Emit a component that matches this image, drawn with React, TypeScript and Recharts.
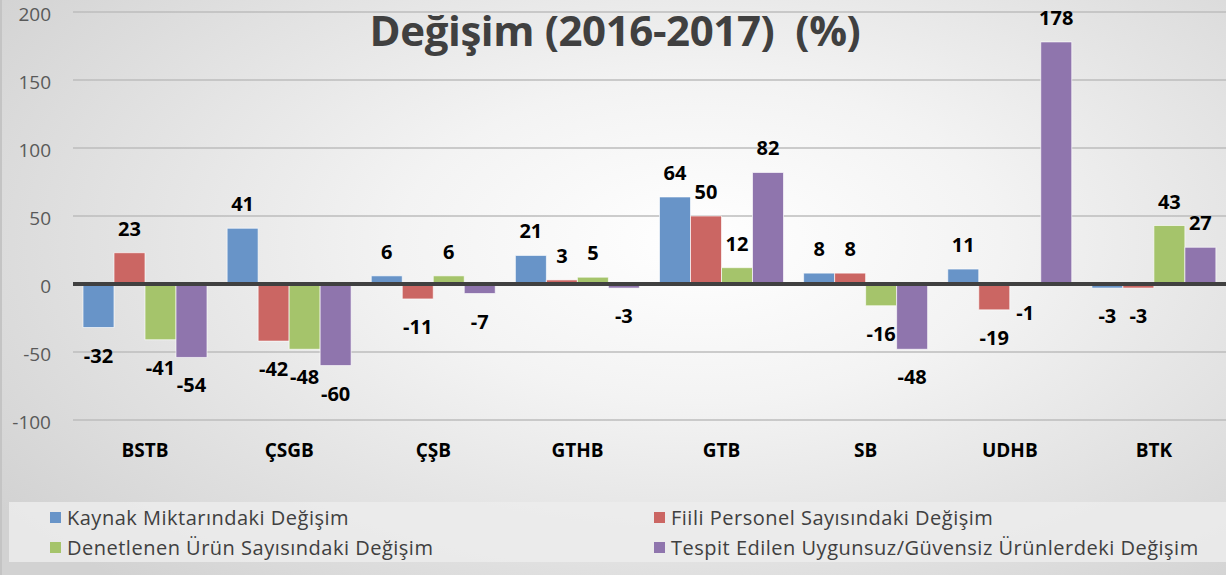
import React from 'react';
import { BarChart, Bar, XAxis, YAxis, CartesianGrid, ReferenceLine, LabelList } from 'recharts';

const categories = ['BSTB', 'ÇSGB', 'ÇŞB', 'GTHB', 'GTB', 'SB', 'UDHB', 'BTK'];
const kaynak = [-32, 41, 6, 21, 64, 8, 11, -3];
const personel = [23, -42, -11, 3, 50, 8, -19, -3];
const denetlenen = [-41, -48, 6, 5, 12, -16, -1, 43];
const tespit = [-54, -60, -7, -3, 82, -48, 178, 27];
const yTicks = [-100, -50, 0, 50, 100, 150, 200];

const series = [
  { key: 'kaynak', name: 'Kaynak Miktarındaki Değişim', color: '#6894C8' },
  { key: 'personel', name: 'Fiili Personel Sayısındaki Değişim', color: '#CB6663' },
  { key: 'denetlenen', name: 'Denetlenen Ürün Sayısındaki Değişim', color: '#A5C46B' },
  { key: 'tespit', name: 'Tespit Edilen Uygunsuz/Güvensiz Ürünlerdeki Değişim', color: '#8F75AD' },
];

const data = categories.map((name, i) => ({
  name,
  kaynak: kaynak[i],
  personel: personel[i],
  denetlenen: denetlenen[i],
  tespit: tespit[i],
}));

const FONT = '"Open Sans", "Noto Sans", sans-serif';

const renderLabel = (props: any) => {
  const { x, y, width, height, value } = props;
  const top = Math.min(Number(y), Number(y) + Number(height));
  const bottom = Math.max(Number(y), Number(y) + Number(height));
  const cx = Number(x) + Number(width) / 2;
  const ty = value >= 0 ? top - 17 : bottom + 35;
  return (
    <text x={cx} y={ty} textAnchor="middle" fontFamily={FONT} fontWeight={700} fontSize={20} fill="#000">
      {value}
    </text>
  );
};

const YTick = (props: any) => {
  const { x, y, payload } = props;
  return (
    <text x={x} y={y + 9} textAnchor="end" fontFamily={FONT} fontSize={19} fill="#595959">
      {payload.value}
    </text>
  );
};

export default function App() {
  return (
    <div
      style={{
        position: 'absolute',
        left: 0,
        top: 0,
        width: 1226,
        height: 575,
        overflow: 'hidden',
        fontFamily: FONT,
        background: 'radial-gradient(ellipse 70% 80% at 57% 42%, #ffffff 0%, #f3f3f3 35%, #d2d2d2 100%)',
        borderLeft: '2px solid #c4c4c4',
        boxSizing: 'border-box',
      }}
    >
      <div
        style={{
          position: 'absolute',
          left: 0,
          width: 1226,
          top: 2,
          textAlign: 'center',
          fontSize: 42,
          fontWeight: 700,
          color: '#404040',
          letterSpacing: -0.4,
          lineHeight: '56px',
        }}
      >
        Değişim (2016-2017)&nbsp;&nbsp;(%)
      </div>
      <div style={{ position: 'absolute', left: -2, top: 0 }}>
        <BarChart
          width={1226}
          height={575}
          data={data}
          margin={{ top: 12, right: 0, left: 0, bottom: 105 }}
          barCategoryGap={10}
          barGap={0}
        >
          <CartesianGrid vertical={false} stroke="#bdbdbd" strokeWidth={1.5} />
          <XAxis
            dataKey="name"
            axisLine={false}
            tickLine={false}
            height={50}
            tickMargin={18}
            tick={{ fill: '#000', fontSize: 19, fontWeight: 700, fontFamily: FONT }}
          />
          <YAxis
            domain={[-100, 200]}
            ticks={yTicks}
            width={73}
            axisLine={false}
            tickLine={false}
            tickMargin={16}
            tick={<YTick />}
          />
          {series.map((s) => (
            <Bar
              key={s.key}
              dataKey={s.key}
              name={s.name}
              fill={s.color}
              stroke="rgba(255,255,255,0.65)"
              strokeWidth={1}
              isAnimationActive={false}
            >
              <LabelList dataKey={s.key} content={renderLabel} />
            </Bar>
          ))}
          <ReferenceLine y={0} stroke="#404040" strokeWidth={4} />
        </BarChart>
      </div>
      <div
        style={{
          position: 'absolute',
          left: 7,
          top: 502,
          width: 1219,
          height: 60,
          background: 'rgba(236,236,236,0.85)',
          display: 'grid',
          gridTemplateColumns: '644px 575px',
          gridTemplateRows: '30px 30px',
          alignItems: 'center',
          fontSize: 20,
          letterSpacing: 0.5,
          color: '#404040',
        }}
      >
        {series.map((s, i) => (
          <div
            key={s.key}
            style={{ display: 'flex', alignItems: 'center', paddingLeft: i % 2 === 0 ? 41 : 1, whiteSpace: 'nowrap' }}
          >
            <span style={{ display: 'inline-block', width: 11, height: 11, background: s.color, marginRight: 6 }} />
            {s.name}
          </div>
        ))}
      </div>
    </div>
  );
}
